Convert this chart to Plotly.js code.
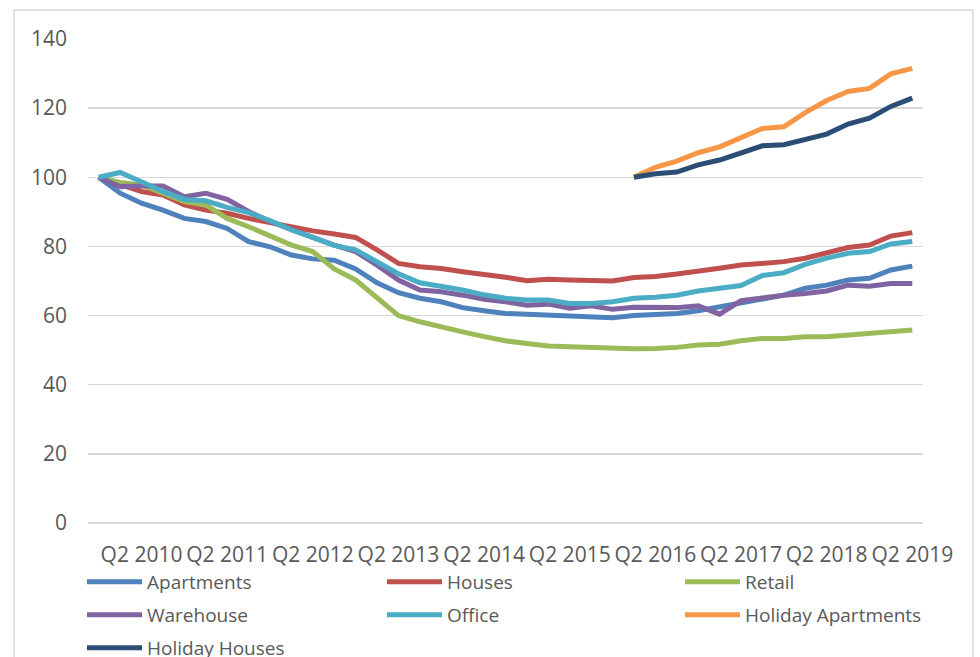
<!DOCTYPE html>
<html>
<head>
<meta charset="utf-8">
<script src="https://cdn.plot.ly/plotly-3.0.1.min.js"></script>
<style>
  html, body { margin: 0; padding: 0; background: #ffffff; }
  #chart { width: 980px; height: 657px; }
</style>
</head>
<body>
<div id="chart"></div>
<script>
const quarters = [
  'Q4 2009',
  'Q1 2010','Q2 2010','Q3 2010','Q4 2010',
  'Q1 2011','Q2 2011','Q3 2011','Q4 2011',
  'Q1 2012','Q2 2012','Q3 2012','Q4 2012',
  'Q1 2013','Q2 2013','Q3 2013','Q4 2013',
  'Q1 2014','Q2 2014','Q3 2014','Q4 2014',
  'Q1 2015','Q2 2015','Q3 2015','Q4 2015',
  'Q1 2016','Q2 2016','Q3 2016','Q4 2016',
  'Q1 2017','Q2 2017','Q3 2017','Q4 2017',
  'Q1 2018','Q2 2018','Q3 2018','Q4 2018',
  'Q1 2019','Q2 2019'
];

const tickLabels = ['Q2 2010','Q2 2011','Q2 2012','Q2 2013','Q2 2014',
                    'Q2 2015','Q2 2016','Q2 2017','Q2 2018','Q2 2019'];

const apartments = [100, 95.4, 92.5, 90.5, 88.1, 87.2, 85.2, 81.4, 79.9, 77.5,
  76.4, 76.0, 73.5, 69.5, 66.6, 65.0, 64.0, 62.3, 61.4, 60.6,
  60.4, 60.2, 59.9, 59.7, 59.4, 60.0, 60.2, 60.6, 61.4, 62.6,
  63.7, 65.0, 65.9, 67.9, 68.8, 70.3, 70.8, 73.2, 74.3];

const houses = [100, 97.8, 95.9, 94.9, 92.0, 90.5, 89.6, 88.1, 86.9, 85.5,
  84.5, 83.6, 82.6, 79.0, 75.1, 74.1, 73.6, 72.7, 72.0, 71.1,
  70.1, 70.5, 70.3, 70.0, 70.0, 71.0, 71.3, 72.0, 72.7, 73.7,
  74.6, 75.1, 75.6, 76.6, 78.2, 79.7, 80.4, 83.0, 84.0];

const retail = [100, 98.5, 97.8, 95.4, 93.0, 92.0, 88.1, 85.7, 83.0, 80.4,
  78.5, 73.5, 70.3, 65.0, 60.0, 58.2, 56.6, 55.3, 53.9, 52.7,
  51.9, 51.2, 51.0, 50.7, 50.7, 50.4, 50.5, 50.8, 51.5, 51.7,
  52.7, 53.4, 53.4, 53.9, 53.9, 54.4, 54.9, 55.6, 55.8];

const warehouse = [100, 97.3, 97.5, 97.5, 94.4, 95.4, 93.6, 90.1, 87.2, 84.8,
  82.6, 80.4, 78.5, 74.6, 70.3, 67.4, 66.9, 65.9, 64.7, 64.0,
  63.0, 63.3, 62.1, 62.8, 61.8, 62.4, 62.4, 62.3, 62.8, 60.4,
  64.3, 65.2, 65.9, 66.4, 67.1, 68.8, 68.5, 69.3, 69.3];

const office = [100, 101.4, 98.7, 95.9, 93.6, 93.2, 91.3, 89.8, 87.5, 84.8,
  82.6, 80.3, 79.0, 75.6, 72.1, 69.5, 68.5, 67.4, 66.0, 65.0,
  64.5, 64.5, 63.5, 63.5, 64.0, 65.0, 65.3, 65.9, 67.1, 67.9,
  68.7, 71.6, 72.4, 74.8, 76.6, 78.0, 78.5, 80.7, 81.4];

const holidayApartments = [null, null, null, null, null, null, null, null, null, null,
  null, null, null, null, null, null, null, null, null, null,
  null, null, null, null, null, 100, 102.9, 104.7, 107.1, 108.8,
  111.5, 114.1, 114.6, 118.7, 122.2, 124.8, 125.7, 129.9, 131.5];

const holidayHouses = [null, null, null, null, null, null, null, null, null, null,
  null, null, null, null, null, null, null, null, null, null,
  null, null, null, null, null, 100, 101.0, 101.5, 103.6, 105.0,
  107.1, 109.1, 109.4, 110.8, 112.5, 115.4, 117.1, 120.5, 122.9];

const seriesNames = ['Apartments','Houses','Retail','Warehouse','Office','Holiday Apartments','Holiday Houses'];
const seriesValues = [apartments, houses, retail, warehouse, office, holidayApartments, holidayHouses];
const seriesColors = ['#4F81BD','#C0504D','#9BBB59','#8064A2','#4BACC6','#F79646','#2C4D75'];

// legend grid: 3 columns x 3 rows, positions in container pixels
const legendCols = [82, 382, 680];
const legendRows = [582, 615, 648];

const FONT = '"Open Sans", "Liberation Sans", sans-serif';
const TXT = '#595959';
const W = 980, H = 657;

const legendKeys = seriesNames.map((n, i) => i === 0 ? 'legend' : 'legend' + (i + 1));

const traces = seriesNames.map((name, i) => ({
  type: 'scatter',
  mode: 'lines',
  name: name,
  x: quarters,
  y: seriesValues[i],
  line: { color: seriesColors[i], width: 5, shape: 'linear' },
  connectgaps: false,
  legend: legendKeys[i],
  hoverinfo: 'x+y+name'
}));

const layout = {
  width: W,
  height: H,
  paper_bgcolor: '#ffffff',
  plot_bgcolor: '#ffffff',
  margin: { l: 88, r: 57, t: 39, b: 134, autoexpand: false },
  font: { family: FONT, color: TXT },
  showlegend: true,
  xaxis: {
    type: 'category',
    categoryorder: 'array',
    categoryarray: quarters,
    range: [-0.5, quarters.length - 0.5],
    tickmode: 'array',
    tickvals: tickLabels,
    ticktext: tickLabels,
    tickangle: 0,
    showgrid: false,
    showline: false,
    zeroline: false,
    ticks: '',
    ticklabelstandoff: 17,
    tickfont: { family: FONT, size: 21, color: TXT },
    automargin: false,
    fixedrange: true
  },
  yaxis: {
    range: [0, 140],
    tickvals: [0, 20, 40, 60, 80, 100, 120, 140],
    showgrid: true,
    gridcolor: '#D9D9D9',
    gridwidth: 1.5,
    zeroline: true,
    zerolinecolor: '#D9D9D9',
    zerolinewidth: 1.5,
    showline: false,
    ticks: '',
    ticklabelstandoff: 20,
    tickfont: { family: FONT, size: 21, color: TXT },
    automargin: false,
    fixedrange: true
  },
  shapes: [{
    type: 'rect',
    xref: 'paper', yref: 'paper',
    x0: (14 - 88) / 835, x1: (973 - 88) / 835,
    y0: (523 - 700) / 484, y1: (523 - 10) / 484,
    line: { color: '#D9D9D9', width: 1.5 },
    fillcolor: 'rgba(0,0,0,0)',
    layer: 'below'
  }]
};

seriesNames.forEach((n, i) => {
  layout[legendKeys[i]] = {
    orientation: 'v',
    xref: 'container', yref: 'container',
    x: legendCols[i % 3] / W, xanchor: 'left',
    y: 1 - legendRows[Math.floor(i / 3)] / H, yanchor: 'middle',
    font: { family: FONT, size: 19, color: TXT },
    bgcolor: 'rgba(0,0,0,0)',
    borderwidth: 0,
    itemwidth: 55
  };
});

Plotly.newPlot('chart', traces, layout, { staticPlot: true, displayModeBar: false });
</script>
</body>
</html>
